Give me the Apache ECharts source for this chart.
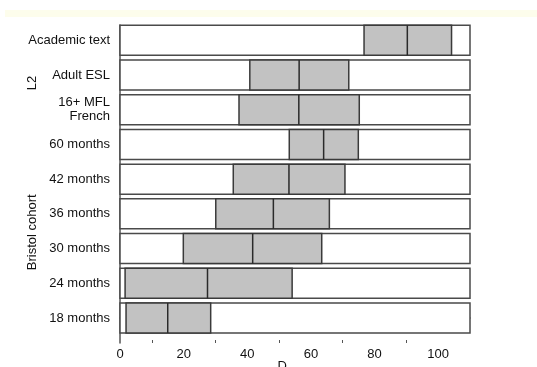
<!DOCTYPE html>
<html>
<head>
<meta charset="utf-8">
<script src="https://cdn.jsdelivr.net/npm/echarts@6/dist/echarts.min.js"></script>
<style>
html,body{margin:0;padding:0;background:#fff;}
#chart{width:537px;height:367px;}
</style>
</head>
<body>
<div id="chart"></div>
<script>
// ---- data ----
const categories = ['Academic text', 'Adult ESL', '16+ MFL\nFrench', '60 months', '42 months', '36 months', '30 months', '24 months', '18 months'];
const q1Values     = [76.7, 40.8, 37.4, 53.2, 35.6, 30.1, 19.9, 1.6, 1.9];
const medianValues = [90.3, 56.3, 56.2, 64.0, 53.1, 48.2, 41.7, 27.5, 15.0];
const q3Values     = [104.2, 71.9, 75.2, 74.9, 70.7, 65.8, 63.4, 54.1, 28.5];
const rangeMin = 0;
const rangeMax = 110;
const xTickLabels = [0, 20, 40, 60, 80, 100];
const xMinorTicks = [10, 30, 50, 70, 90];
const groupLabels = ['L2', 'Bristol cohort'];
const groupRows = [[0, 2], [3, 8]];
const xName = 'D';

const n = categories.length;
const pos = categories.map((c, i) => n - 1 - i);
const seriesData = categories.map((c, i) => [pos[i], q1Values[i], medianValues[i], q3Values[i], rangeMin, rangeMax]);

const FONT = '"Liberation Sans", Arial, Helvetica, sans-serif';
const TXT = '#111';
const chart = echarts.init(document.getElementById('chart'), null, {renderer: 'canvas'});

const option = {
  backgroundColor: '#ffffff',
  animation: false,
  grid: {left: 120, right: 67, top: 25, bottom: 24, containLabel: false},
  xAxis: [{
    type: 'value', min: rangeMin, max: rangeMax,
    axisLine: {show: true, lineStyle: {color: '#555', width: 1.5}},
    axisTick: {show: true, inside: true, length: 5, customValues: xTickLabels, lineStyle: {color: '#555', width: 1}},
    axisLabel: {customValues: xTickLabels, color: TXT, fontFamily: FONT, fontSize: 13, margin: 5},
    splitLine: {show: false}
  }, {
    type: 'value', min: rangeMin, max: rangeMax, position: 'bottom',
    axisLine: {show: false},
    axisTick: {show: true, inside: true, length: 3, customValues: xMinorTicks, lineStyle: {color: '#555', width: 1}},
    axisLabel: {show: false},
    splitLine: {show: false}
  }],
  yAxis: {
    type: 'value', min: -0.72, max: n - 1 + 0.44,
    axisLine: {show: true, lineStyle: {color: '#555', width: 1.5}},
    axisTick: {show: false},
    splitLine: {show: false},
    axisLabel: {
      customValues: pos,
      formatter: v => categories[n - 1 - Math.round(v)],
      color: TXT, fontFamily: FONT, fontSize: 13, lineHeight: 14, margin: 10, align: 'right'
    }
  },
  series: [{
    type: 'custom',
    xAxisIndex: 0,
    encode: {x: [1, 2, 3, 4, 5], y: 0},
    data: seriesData,
    renderItem: function (params, api) {
      const y = api.value(0);
      const h = api.size([0, 0.865])[1];
      const a = api.coord([api.value(4), y]);
      const b = api.coord([api.value(5), y]);
      const q1 = api.coord([api.value(1), y]);
      const md = api.coord([api.value(2), y]);
      const q3 = api.coord([api.value(3), y]);
      const top = a[1] - h / 2;
      return {
        type: 'group',
        children: [
          {type: 'rect', shape: {x: a[0], y: top, width: b[0] - a[0], height: h},
           style: {fill: '#ffffff', stroke: '#4a4a4a', lineWidth: 1.5}},
          {type: 'rect', shape: {x: q1[0], y: top, width: q3[0] - q1[0], height: h},
           style: {fill: '#c2c2c2', stroke: '#3a3a3a', lineWidth: 1.5}},
          {type: 'line', shape: {x1: md[0], y1: top, x2: md[0], y2: top + h},
           style: {stroke: '#2a2a2a', lineWidth: 1.5}}
        ]
      };
    }
  }]
};
chart.setOption(option);

// group labels and axis name, placed via the chart's own coordinate conversion
const graphics = [{
  type: 'rect', left: 5, top: 10, shape: {x: 0, y: 0, width: 532, height: 7},
  style: {fill: '#fdfdec'}, silent: true
}];
groupLabels.forEach((g, k) => {
  const r0 = pos[groupRows[k][0]], r1 = pos[groupRows[k][1]];
  const p = chart.convertToPixel({xAxisIndex: 0, yAxisIndex: 0}, [0, (r0 + r1) / 2]);
  graphics.push({
    type: 'text', x: 32, y: p[1] + (k === 0 ? 8 : 1), rotation: Math.PI / 2,
    style: {text: g, fill: TXT, font: '13px ' + FONT, textAlign: 'center', textVerticalAlign: 'middle'}
  });
});
const pd = chart.convertToPixel({xAxisIndex: 0, yAxisIndex: 0}, [51, -0.72]);
graphics.push({
  type: 'text', x: pd[0], y: pd[1] + 17,
  style: {text: xName, fill: TXT, font: '13px ' + FONT, textAlign: 'center', textVerticalAlign: 'top'}
});
chart.setOption({graphic: graphics});
</script>
</body>
</html>
